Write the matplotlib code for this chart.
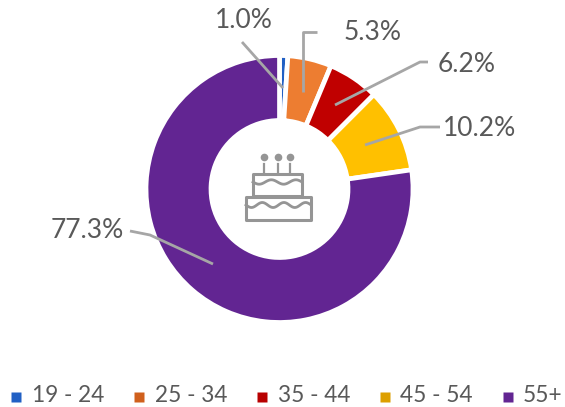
import numpy as np
import matplotlib
matplotlib.use("Agg")
import matplotlib.pyplot as plt

categories = ["19 - 24", "25 - 34", "35 - 44", "45 - 54", "55+"]
values = [1.0, 5.3, 6.2, 10.2, 77.3]
colors = ["#2160c4", "#ed7d31", "#c00000", "#ffc000", "#622592"]
legend_colors = ["#2160c4", "#d0601c", "#b80000", "#dd9f00", "#622592"]
labels = ["1.0%", "5.3%", "6.2%", "10.2%", "77.3%"]

W, H = 565, 407
plt.rcParams["font.family"] = ["Lato", "DejaVu Sans"]
TXT = "#595959"
LINE = "#a6a6a6"
fig = plt.figure(figsize=(W / 100, H / 100), dpi=100)
ax = fig.add_axes([0, 0, 1, 1])
ax.set_xlim(0, W)
ax.set_ylim(H, 0)
ax.axis("off")

# pie on an ordinary upward y axis inside the pixel axes
pax = fig.add_axes([0, 0, 1, 1], zorder=1)
pax.set_xlim(0, W)
pax.set_ylim(0, H)
pax.axis("off")
R, r = 133.5, 68.5
cx, cy = 279.5, H - 189
wedges, _ = pax.pie(values, colors=colors, startangle=90, counterclock=False,
                    center=(cx, cy), radius=R, frame=False,
                    wedgeprops=dict(width=R - r, edgecolor="white", linewidth=3.4))
pax.set_xlim(0, W)
pax.set_ylim(0, H)
pax.set_aspect("auto")

# overlay
ox = fig.add_axes([0, 0, 1, 1], zorder=2)
ox.set_xlim(0, W)
ox.set_ylim(H, 0)
ox.axis("off")
ox.patch.set_alpha(0)

leaders = [
    ([242, 283], [42, 88]),
    ([317, 303, 303], [32, 32, 92]),
    ([428, 420, 335], [62, 62, 105]),
    ([440, 420, 365], [127, 127, 145]),
    ([130, 150, 213], [231, 235, 264]),
]
for xs, ys in leaders:
    ox.plot(xs, ys, color=LINE, lw=2.0, solid_capstyle="butt", solid_joinstyle="round")

label_pos = [(244, 20), (373, 32), (467, 64), (480, 129), (87, 230)]
for (x, y), t in zip(label_pos, labels):
    ox.text(x, y, t, fontsize=19, color=TXT, ha="center", va="center")

# cake icon
IC = "#959595"
def rect(x0, y0, x1, y1):
    ox.add_patch(plt.Rectangle((x0, y0), x1 - x0, y1 - y0, fill=False, ec=IC, lw=2.2, joinstyle="round"))
rect(253, 174, 302, 196)
rect(246, 197, 311, 220)
t = np.linspace(0, 1, 100)
ox.plot(253 + 49 * t, 182 + 2.2 * np.sin(t * 2 * np.pi * 2), color=IC, lw=2)
ox.plot(246 + 65 * t, 205 + 2.5 * np.sin(t * 2 * np.pi * 3), color=IC, lw=2)
for x in (264, 278, 290):
    ox.plot([x, x], [164, 174], color=IC, lw=1.6)
    ox.plot([x], [157], marker="o", ms=5.5, color=IC, mec="none")

# legend
sq_x = [16, 139, 262, 385, 508]
txt_x = [32, 155, 278, 400, 523]
for sx, tx, c, name in zip(sq_x, txt_x, legend_colors, categories):
    ox.plot([sx], [397], marker="s", ms=7.5, color=c, mec="none")
    ox.text(tx, 396, name, fontsize=16.3, color=TXT, ha="left", va="center")

fig.savefig("out.png", dpi=100)
